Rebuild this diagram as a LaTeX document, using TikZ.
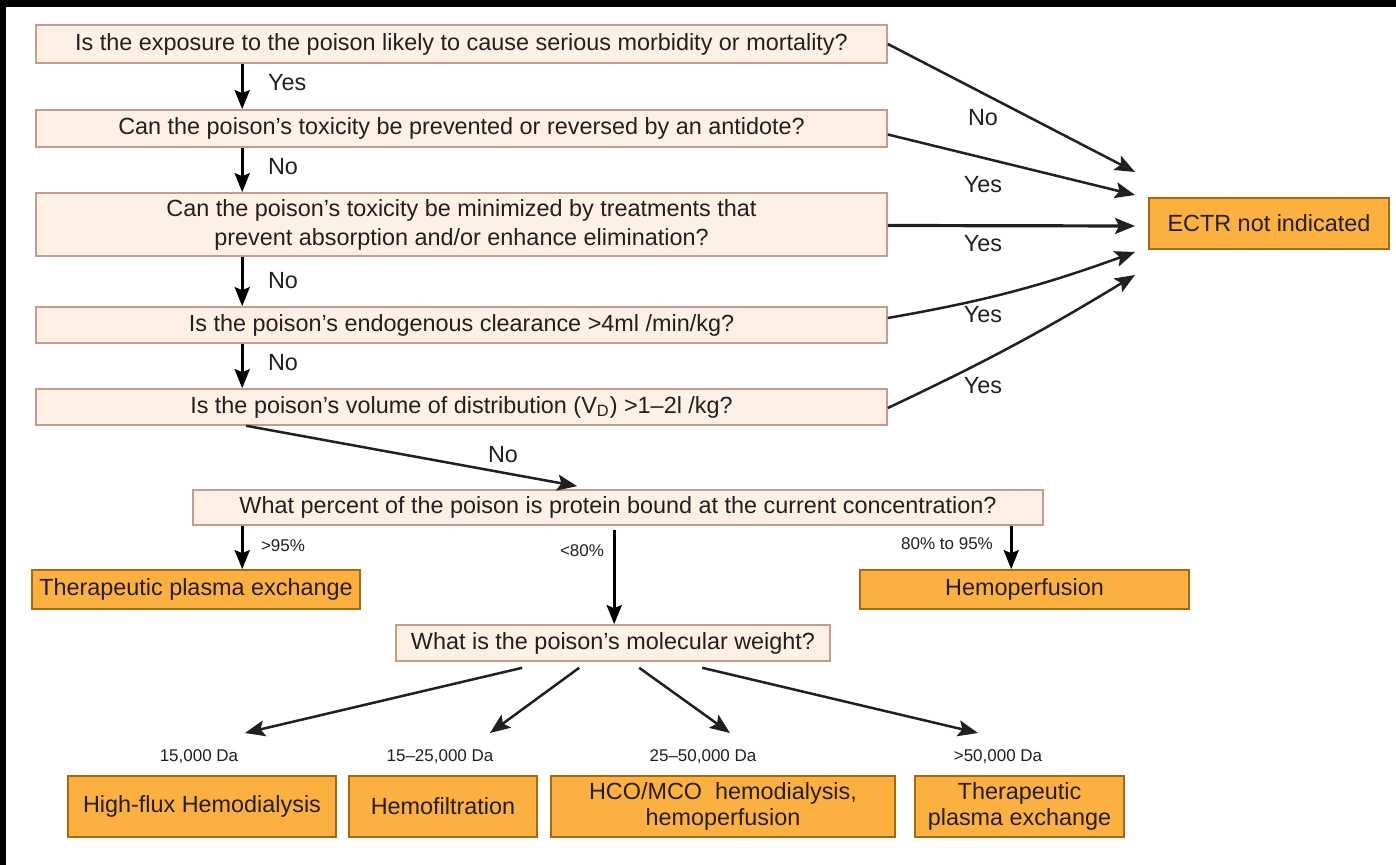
\documentclass[tikz,border=0pt]{standalone}
\usepackage{fontspec}
\setmainfont{Liberation Sans}
\usetikzlibrary{arrows.meta}

\definecolor{qfill}{HTML}{FEF0E4}
\definecolor{qdraw}{HTML}{C59C8B}
\definecolor{afill}{HTML}{FBB040}
\definecolor{adraw}{HTML}{A8680F}
\definecolor{ink}{HTML}{231F20}

\begin{document}
\begin{tikzpicture}[x=0.5pt, y=-0.5pt, font=\fontsize{11.7}{14.5}\selectfont, text=ink,
  qbox/.style={draw=qdraw, fill=qfill, line width=0.8pt, align=center, inner sep=0pt, minimum width=425.5pt},
  abox/.style={draw=adraw, fill=afill, line width=0.8pt, align=center, inner sep=0pt},
  varrow/.style={-{Stealth[length=9.5pt, width=7.5pt, inset=1.5pt]}, line width=1.6pt, draw=black},
  darrow/.style={-{Stealth[length=10pt, width=8pt, inset=2pt]}, line width=1.25pt, draw=ink},
  small/.style={font=\fontsize{8.5}{10}\selectfont}]
\useasboundingbox (0,0) rectangle (1396,865);
\fill[black] (0,0) rectangle (1396,865);
\fill[white] (6,7) rectangle (1396,865);

\node[qbox, minimum height=19pt] (q1) at (461.5,44) {Is the exposure to the poison likely to cause serious morbidity or mortality?};
\node[qbox, minimum height=18.5pt] (q2) at (461.5,128.5) {Can the poison’s toxicity be prevented or reversed by an antidote?};
\node[qbox, minimum height=31.5pt] (q3) at (461.5,224.5) {Can the poison’s toxicity be minimized by treatments that\\prevent absorption and/or enhance elimination?};
\node[qbox, minimum height=18pt] (q4) at (461.5,325) {Is the poison’s endogenous clearance >4ml /min/kg?};
\node[qbox, minimum height=18pt] (q5) at (461.5,407) {Is the poison’s volume of distribution (V\textsubscript{D}) >1–2l /kg?};
\node[qbox, minimum height=17.5pt, minimum width=425pt] (q6) at (618,507.5) {What percent of the poison is protein bound at the current concentration?};
\node[qbox, minimum height=18pt, minimum width=217pt] (q7) at (613,643) {What is the poison’s molecular weight?};

\node[abox, minimum width=120pt, minimum height=25.5pt] (ectr) at (1269,223.5) {ECTR not indicated};
\node[abox, minimum width=164pt, minimum height=19.5pt] (tpe) at (196,589.5) {Therapeutic plasma exchange};
\node[abox, minimum width=164.5pt, minimum height=19.5pt] (hp) at (1024.5,589.5) {Hemoperfusion};

\foreach \n/\x/\w/\txt in {m1/202/134/{High-flux Hemodialysis}, m2/443/94/{Hemofiltration}, m3/723/172/{HCO/MCO\ \ hemodialysis,\\hemoperfusion}, m4/1019.5/104.5/{Therapeutic\\plasma exchange}}
  \node[abox, minimum width=\w pt, minimum height=30.5pt, font=\fontsize{11.7}{13}\selectfont] (\n) at (\x,806.5) {\txt};

\foreach \a/\b/\lab/\ly in {q1/q2/Yes/83, q2/q3/No/167, q3/q4/No/281, q4/q5/No/363}{
  \draw[varrow] ([xshift=103.5pt]\a.south west) -- ([xshift=103.5pt]\b.north west);
  \node[anchor=west] at (261,\ly) {\lab};
}

\coordinate (e1) at (1135,172);
\coordinate (e2) at (1135,195);
\coordinate (e3) at (1135,226);
\coordinate (e4) at (1135,252);
\coordinate (e5) at (1135,275);
\draw[darrow] (q1.east) -- (e1);
\draw[darrow] ([yshift=-3pt]q2.east) -- (e2);
\draw[darrow, line width=1.6pt] ([yshift=-0.5pt]q3.east) -- (e3);
\draw[darrow] ([yshift=3.5pt]q4.east) to[bend right=5] (e4);
\draw[darrow] ([yshift=-0.5pt]q5.east) to[bend right=3] (e5);
\node at (983,118) {No};
\node at (983,185) {Yes};
\node at (983,244) {Yes};
\node at (983,315) {Yes};
\node at (983,386) {Yes};

\draw[darrow] ([xshift=105.5pt]q5.south west) -- ([xshift=192.5pt, yshift=1.5pt]q6.north west);
\node at (503,455) {No};

\draw[varrow] ([xshift=25pt]q6.south west) -- ([xshift=25pt]q6.south west |- tpe.north);
\node[small] at (283,546) {>95\%};
\draw[varrow, shorten <=2pt] ([xshift=211pt]q6.south west) -- ([xshift=211pt]q6.south west |- q7.north);
\node[small] at (582,551) {<80\%};
\draw[varrow] ([xshift=409.5pt]q6.south west) -- ([xshift=409.5pt]q6.south west |- hp.north);
\node[small] at (947,544) {80\% to 95\%};

\foreach \s/\ex/\lx/\lab in {63.5/245/199/{15,000 Da}, 92/490/440/{15–25,000 Da}, 122/730/703/{25–50,000 Da}, 153.5/978/998/{>50,000 Da}}{
  \draw[darrow] ([xshift=\s pt, yshift=-3pt]q7.south west) -- (\ex,733);
  \node[small] at (\lx,757) {\lab};
}
\end{tikzpicture}
\end{document}
